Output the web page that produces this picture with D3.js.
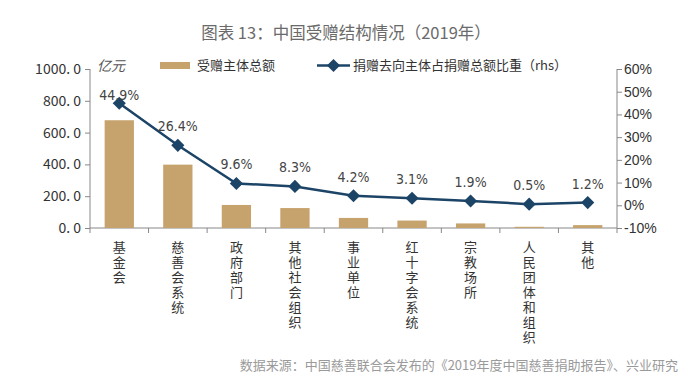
<!DOCTYPE html>
<html>
<head>
<meta charset="utf-8">
<script src="https://cdn.jsdelivr.net/npm/d3@7"></script>
<style>
body { margin: 0; background: #fff; }
text { font-family: "Noto Sans CJK SC", "Noto Sans", sans-serif; }
</style>
</head>
<body>
<script>
let width = 700
let height = 384

// data
let categories = ["基金会", "慈善会系统", "政府部门", "其他社会组织", "事业单位", "红十字会系统", "宗教场所", "人民团体和组织", "其他"]
let amounts = [677.7, 398.5, 144.9, 125.3, 63.4, 46.8, 28.7, 7.5, 18.1]
let shares = [44.9, 26.4, 9.6, 8.3, 4.2, 3.1, 1.9, 0.5, 1.2]
let leftTicks = [0, 200, 400, 600, 800, 1000]
let rightTicks = [-10, 0, 10, 20, 30, 40, 50, 60]

let barColor = "#c6a26c"
let lineColor = "#1c4467"

let svg = d3.select("body")
.append("svg")
.attr("width", width)
.attr("height", height)
.style("background", "#fff")

// scales
let x = d3.scaleBand()
.domain(categories)
.range([90, 617])
.paddingInner(0.5)
.paddingOuter(0.25)

let y = d3.scaleLinear()
.domain([0, 1000])
.range([228, 69])

let y2 = d3.scaleLinear()
.domain([-10, 60])
.range([228, 69])

// title
svg.append("text")
.attr("x", 346)
.attr("y", 39)
.attr("text-anchor", "middle")
.style("font-size", "16.5px")
.style("fill", "#6a6a6a")
.text("图表 13：中国受赠结构情况（2019年）")

// left axis
let yAxis = d3.axisLeft(y)
.tickValues(leftTicks)
.tickSize(5)
.tickFormat(d => d3.format(".1f")(d).replace(".", ". "))

let gl = svg.append("g")
.attr("transform", "translate(90,0)")
.call(yAxis)
gl.select(".domain").attr("d", "M0,69V228").attr("stroke", "#888")
gl.selectAll(".tick line").attr("stroke", "#888")
gl.selectAll(".tick text")
.attr("x", -9)
.style("font-size", "14px")
.style("fill", "#333")
.style("font-family", "'Noto Sans CJK SC', sans-serif")

// right axis
let yAxis2 = d3.axisRight(y2)
.tickValues(rightTicks)
.tickSize(5)
.tickFormat(d => d + "%")

let gr = svg.append("g")
.attr("transform", "translate(617,0)")
.call(yAxis2)
gr.select(".domain").attr("d", "M0,69V228").attr("stroke", "#888")
gr.selectAll(".tick line").attr("stroke", "#888")
gr.selectAll(".tick text")
.attr("x", 7)
.style("font-size", "14px")
.style("fill", "#333")
.style("font-family", "'Liberation Sans', Arial, sans-serif")

// x axis
let boundaries = d3.range(categories.length + 1).map(i => 90 + i * (527 / categories.length))
svg.append("line")
.attr("x1", 90).attr("x2", 617)
.attr("y1", y(0)).attr("y2", y(0))
.attr("stroke", "#888")
svg.selectAll(".xtick")
.data(boundaries)
.enter()
.append("line")
.attr("x1", d => d).attr("x2", d => d)
.attr("y1", y(0)).attr("y2", y(0) + 5)
.attr("stroke", "#888")

// bars
svg.selectAll(".bar")
.data(amounts)
.enter()
.append("rect")
.attr("x", (d, i) => x(categories[i]))
.attr("width", x.bandwidth())
.attr("y", d => y(d))
.attr("height", d => y(0) - y(d))
.style("fill", barColor)

// line
let line = d3.line()
.x((d, i) => x(categories[i]) + x.bandwidth() / 2)
.y(d => y2(d))

svg.append("path")
.datum(shares)
.attr("d", line)
.style("fill", "none")
.style("stroke", lineColor)
.style("stroke-width", 2.5)

svg.selectAll(".marker")
.data(shares)
.enter()
.append("path")
.attr("d", d3.symbol().type(d3.symbolDiamond2).size(110))
.attr("transform", (d, i) => "translate(" + (x(categories[i]) + x.bandwidth() / 2) + "," + y2(d) + ")")
.style("fill", lineColor)

// value labels
svg.selectAll(".vlabel")
.data(shares)
.enter()
.append("text")
.attr("x", (d, i) => x(categories[i]) + x.bandwidth() / 2)
.attr("y", d => Math.max(y2(d) - 19, 95) + 5)
.attr("text-anchor", "middle")
.style("font-size", "14px")
.style("fill", "#444")
.style("font-family", "'DejaVu Sans', sans-serif")
.style("font-stretch", "condensed")
.text(d => d.toFixed(1) + "%")

// category labels, one character per line
categories.forEach(c => {
	let cx = x(c) + x.bandwidth() / 2
	c.split("").forEach((ch, j) => {
		svg.append("text")
		.attr("x", cx)
		.attr("y", 252 + j * 15)
		.attr("text-anchor", "middle")
		.style("font-size", "13px")
		.style("fill", "#333")
		.text(ch)
	})
})

// legend
svg.append("text")
.attr("x", 97)
.attr("y", 71)
.style("font-size", "14px")
.style("font-style", "italic")
.style("fill", "#555")
.text("亿元")

svg.append("rect")
.attr("x", 160).attr("y", 62)
.attr("width", 30).attr("height", 7)
.style("fill", barColor)

svg.append("text")
.attr("x", 197)
.attr("y", 70)
.style("font-size", "13px")
.style("fill", "#333")
.text("受赠主体总额")

svg.append("line")
.attr("x1", 317).attr("x2", 350)
.attr("y1", 65.5).attr("y2", 65.5)
.style("stroke", lineColor)
.style("stroke-width", 2.5)

svg.append("path")
.attr("d", d3.symbol().type(d3.symbolDiamond2).size(110))
.attr("transform", "translate(333.5,65.5)")
.style("fill", lineColor)

svg.append("text")
.attr("x", 353)
.attr("y", 70)
.style("font-size", "13px")
.style("fill", "#333")
.text("捐赠去向主体占捐赠总额比重（rhs）")

// source
svg.append("text")
.attr("x", 678)
.attr("y", 370)
.attr("text-anchor", "end")
.style("font-size", "13px")
.style("fill", "#9a9a9a")
.text("数据来源：中国慈善联合会发布的《2019年度中国慈善捐助报告》、兴业研究")
</script>
</body>
</html>
